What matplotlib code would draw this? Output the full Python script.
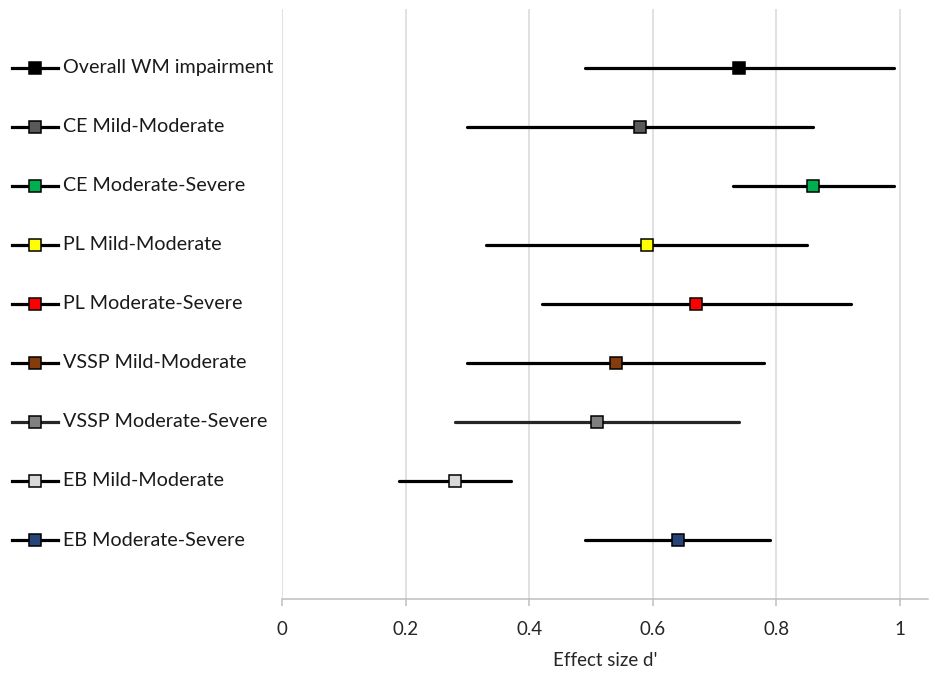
import numpy as np
import matplotlib.pyplot as plt
from matplotlib.transforms import blended_transform_factory

labels = ["Overall WM impairment", "CE Mild-Moderate", "CE Moderate-Severe",
          "PL Mild-Moderate", "PL Moderate-Severe", "VSSP Mild-Moderate",
          "VSSP Moderate-Severe", "EB Mild-Moderate", "EB Moderate-Severe"]
effect = [0.74, 0.58, 0.86, 0.59, 0.67, 0.54, 0.51, 0.28, 0.64]
ci_low = [0.49, 0.30, 0.73, 0.33, 0.42, 0.30, 0.28, 0.19, 0.49]
ci_high = [0.99, 0.86, 0.99, 0.85, 0.92, 0.78, 0.74, 0.37, 0.79]
marker_colors = ["#000000", "#595959", "#00B050", "#FFFF00", "#FF0000",
                 "#843C0C", "#808080", "#D9D9D9", "#264478"]
line_colors = ["#000000"] * 6 + ["#262626"] + ["#000000"] * 2
xticks = [0, 0.2, 0.4, 0.6, 0.8, 1]

plt.rcParams['font.family'] = ['Lato', 'DejaVu Sans']

fig = plt.figure(figsize=(9.35, 6.73), dpi=100)
ax = fig.add_axes([282 / 935, 1 - 599 / 673, 646 / 935, 590 / 673])

n = len(labels)
ys = np.arange(n, 0, -1)  # top row at n

for y, e, lo, hi, mc, lc in zip(ys, effect, ci_low, ci_high, marker_colors, line_colors):
    ax.plot([lo, hi], [y, y], color=lc, lw=2.3, solid_capstyle='round', zorder=3)
    ax.plot([e], [y], marker='s', ms=9, mfc=mc, mec='black', mew=1.1, zorder=4)

ax.set_xlim(0, 646 / 618)
ax.set_ylim(0, n + 1)
ax.set_xticks(xticks)
ax.set_xticklabels([f"{t:g}" for t in xticks], fontsize=13.5, color='#262626')
ax.set_yticks([])
ax.grid(axis='x', color='#D9D9D9', lw=1.1)
ax.set_axisbelow(True)
for s in ['top', 'right', 'left']:
    ax.spines[s].set_visible(False)
ax.spines['bottom'].set_color('#BFBFBF')
ax.spines['bottom'].set_linewidth(1.1)
ax.tick_params(axis='x', length=5, width=1.1, color='#BFBFBF', pad=11)
ax.set_xlabel("Effect size d'", fontsize=13.5, color='#262626', labelpad=10)

# legend drawn on the left, aligned to each row
tr = blended_transform_factory(fig.transFigure, ax.transData)
for y, lab, mc, lc in zip(ys, labels, marker_colors, line_colors):
    ax.plot([12 / 935, 58 / 935], [y, y], color=lc, lw=2.3, transform=tr, clip_on=False)
    ax.plot([35 / 935], [y], marker='s', ms=9, mfc=mc, mec='black', mew=1.1,
            transform=tr, clip_on=False)
    ax.text(63 / 935, y, lab, transform=tr, va='center', ha='left',
            fontsize=14.2, color='#1a1a1a')

fig.savefig("out.png", dpi=100)
